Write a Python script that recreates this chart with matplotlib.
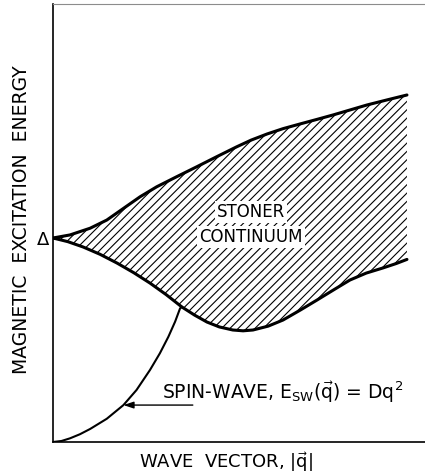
import numpy as np
import matplotlib
matplotlib.use("Agg")
import matplotlib.pyplot as plt
from matplotlib.patches import Polygon

plt.rcParams["font.family"] = "DejaVu Sans"
plt.rcParams["mathtext.fontset"] = "dejavusans"
plt.rcParams["hatch.linewidth"] = 0.8

# wave vector in units of the zone edge, energy in units of the gap (Delta = 1)
upper_q = [0.0, 0.048, 0.105, 0.152, 0.199, 0.246, 0.293, 0.349, 0.406, 0.462,
           0.519, 0.560, 0.605, 0.650, 0.698, 0.745, 0.791, 0.840, 0.887, 0.944, 1.0]
upper_e = [1.0, 1.015, 1.048, 1.088, 1.145, 1.202, 1.251, 1.300, 1.349, 1.398,
           1.447, 1.480, 1.510, 1.536, 1.559, 1.581, 1.603, 1.628, 1.652, 1.677, 1.701]

lower_q = [0.0, 0.042, 0.085, 0.133, 0.181, 0.228, 0.274, 0.320, 0.364, 0.400,
           0.435, 0.470, 0.508, 0.537, 0.565, 0.608, 0.650, 0.700, 0.746,
           0.795, 0.839, 0.885, 0.932, 0.970, 1.0]
lower_e = [1.0, 0.982, 0.956, 0.920, 0.877, 0.830, 0.779, 0.722, 0.662, 0.622,
           0.588, 0.564, 0.549, 0.545, 0.549, 0.568, 0.598, 0.648, 0.696,
           0.748, 0.794, 0.828, 0.853, 0.875, 0.895]

sw_q = [0.0, 0.024, 0.048, 0.076, 0.105, 0.152, 0.199, 0.236, 0.274, 0.302,
        0.326, 0.345, 0.359, 0.364]
sw_e = [0.0, 0.005, 0.018, 0.038, 0.064, 0.114, 0.181, 0.255, 0.353, 0.435,
        0.516, 0.590, 0.655, 0.662]

fig = plt.figure(figsize=(4.25, 4.76), dpi=100)
ax = fig.add_axes([53 / 425, 34 / 476, 372 / 425, 438 / 476])

# hatched Stoner continuum between the two boundaries
verts = list(zip(upper_q, upper_e)) + list(zip(lower_q[::-1], lower_e[::-1]))
ax.add_patch(Polygon(verts, closed=True, facecolor="none", edgecolor="black",
                     hatch="////", linewidth=0, zorder=1))
ax.plot(upper_q, upper_e, color="black", lw=2.2, solid_capstyle="round",
        solid_joinstyle="round", zorder=3)
ax.plot(lower_q, lower_e, color="black", lw=2.2, solid_capstyle="round",
        solid_joinstyle="round", zorder=3)

# spin-wave branch
ax.plot(sw_q, sw_e, color="black", lw=1.5, solid_joinstyle="round", zorder=3)
ax.annotate("", xy=(0.199, 0.181), xytext=(0.395, 0.181),
            arrowprops=dict(arrowstyle="-|>,head_length=0.6,head_width=0.2",
                            color="black", lw=1.0, shrinkA=0, shrinkB=0))
ax.text(0.308, 0.211, r"SPIN-WAVE, E$_{\rm SW}$($\vec{\rm q}$) = Dq$^2$",
        fontsize=13.5, va="baseline", ha="left")

for label, y in [("STONER", 1.125), ("CONTINUUM", 1.005)]:
    ax.text(0.56, y, label, fontsize=12, ha="center", va="center", zorder=4,
            bbox=dict(facecolor="white", edgecolor="none", pad=1.5))

ax.set_xlim(0, 1.051)
ax.set_ylim(0, 2.147)
ax.set_xticks([])
ax.set_yticks([1.0])
ax.set_yticklabels(["Δ"], fontsize=13)
ax.tick_params(axis="y", direction="in", length=4, width=2, pad=3)

ax.spines["right"].set_visible(False)
ax.spines["top"].set_color("0.55")
ax.spines["top"].set_linewidth(0.8)
ax.spines["left"].set_linewidth(1.2)
ax.spines["bottom"].set_linewidth(1.2)

fig.text(226 / 425, 1 - 462 / 476, r"WAVE  VECTOR, |$\vec{\rm q}$|",
         fontsize=13, ha="center", va="center")
fig.text(22 / 425, 1 - 220 / 476, "MAGNETIC  EXCITATION  ENERGY",
         fontsize=13.5, ha="center", va="center", rotation=90)

fig.savefig("out.png", dpi=100)
